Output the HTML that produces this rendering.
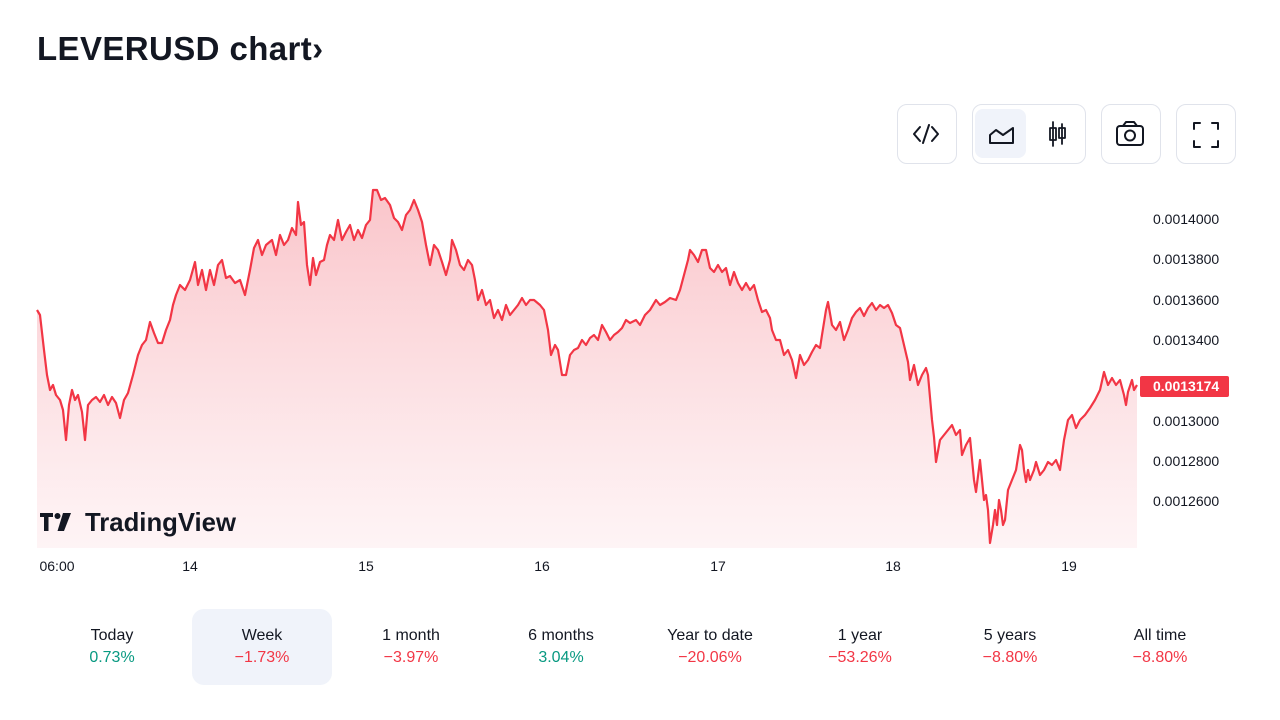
<!DOCTYPE html>
<html><head><meta charset="utf-8"><style>
body{margin:0;width:1280px;height:720px;background:#fff;font-family:"Liberation Sans",sans-serif;color:#131722;position:relative;overflow:hidden}
.abs{position:absolute}
.btn{position:absolute;top:104px;height:60px;border:1px solid #e0e3eb;border-radius:10px;box-sizing:border-box}
.yl{position:absolute;left:1153px;font-size:14px;color:#131722}
.xl{position:absolute;top:558px;font-size:14px;color:#131722;transform:translateX(-50%)}
.tab{position:absolute;top:609px;width:140px;height:76px;text-align:center;font-size:16px;transform:translateX(-50%);border-radius:12px}
.tab .a{margin-top:18px}
.tab .b{margin-top:4px}
.g{color:#089981}.r{color:#f23645}
</style></head><body>
<div class="abs" style="left:37px;top:30px;font-size:33px;font-weight:bold;letter-spacing:0.4px">LEVERUSD chart›</div>

<div class="btn" style="left:897px;width:60px"></div>
<div class="btn" style="left:972px;width:114px"></div>
<div class="abs" style="left:975px;top:109px;width:51px;height:49px;background:#f0f3fa;border-radius:8px"></div>
<div class="btn" style="left:1101px;width:60px"></div>
<div class="btn" style="left:1176px;width:60px"></div>
<svg class="abs" style="left:0;top:0" width="1280" height="200" fill="none" stroke="#131722" stroke-width="2" stroke-linecap="round" stroke-linejoin="round">
<path d="M920 127l-6 7 6 7M932 127l6 7-6 7M929 125l-6 18"/>
<path d="M990 143v-8l6-5 7 5 10-7v15z"/>
<path d="M1053 122v24M1050 128h6v12h-6zM1062 124v20M1059 128h6v10h-6z" stroke-width="1.8"/>
<rect x="1117" y="126" width="26" height="19" rx="3"/><path d="M1123 126l3-4h8l3 4"/><circle cx="1130" cy="135.5" r="5"/>
<path d="M1194 129v-6h6M1212 123h6v6M1218 141v6h-6M1200 147h-6v-6"/>
</svg>

<svg class="abs" style="left:0;top:0" width="1280" height="560">
<defs><linearGradient id="f" x1="0" y1="0" x2="0" y2="1"><stop offset="0" stop-color="#f7a5ad" stop-opacity=".65"/><stop offset="1" stop-color="#fde9ec" stop-opacity=".5"/></linearGradient></defs>
<path id="p" fill="url(#f)" d="M37 310 L40 315 44 350 47 375 50 390 53 385 56 395 60 400 63 410 66 440 69 405 72 390 75 400 78 395 82 412 85 440 88 405 92 400 96 397 100 402 104 395 108 405 112 397 116 403 120 418 124 400 128 393 133 375 138 355 142 345 146 340 150 322 154 333 158 343 162 343 166 330 170 320 173 305 176 295 180 285 185 290 190 280 195 262 198 285 202 270 206 290 210 270 214 285 218 265 222 260 226 278 230 276 235 283 240 280 245 295 250 270 254 248 258 240 262 255 266 245 272 240 276 255 280 235 284 245 288 240 292 228 296 235 298 202 301 225 304 222 307 265 310 285 313 258 316 275 320 262 324 260 327 245 330 235 334 240 338 220 342 240 346 232 350 225 354 240 358 230 362 238 366 225 370 220 373 190 377 190 381 200 385 198 390 205 394 218 398 222 402 230 406 215 410 210 414 200 418 210 422 222 426 245 430 265 434 245 438 250 442 262 446 275 450 260 452 240 456 250 460 265 464 270 468 260 472 265 475 280 478 300 482 290 486 305 490 300 494 318 498 310 502 320 506 305 510 315 514 310 518 305 522 298 526 305 530 300 534 300 540 305 544 310 548 330 551 355 555 345 558 350 562 375 566 375 570 355 574 350 578 348 582 340 586 345 590 338 594 335 598 340 602 325 606 332 610 340 614 335 618 332 622 328 626 320 630 323 636 320 640 325 645 315 650 310 656 300 660 305 665 302 670 298 676 300 680 290 684 275 688 260 690 250 694 255 698 262 702 250 706 250 710 268 714 272 718 265 722 272 726 268 730 285 734 272 738 283 742 290 746 283 750 290 754 285 758 300 762 312 766 310 770 318 772 330 776 340 780 340 784 355 788 350 792 360 796 378 800 355 804 365 808 360 812 352 816 345 820 348 822 335 826 310 828 302 832 325 836 330 840 322 844 340 848 330 852 318 856 312 860 308 864 316 868 308 872 303 876 310 880 305 884 308 888 305 892 313 896 325 900 328 904 345 908 362 910 380 914 365 918 385 922 375 926 368 928 375 932 420 934 437 936 462 940 440 944 435 948 430 952 425 956 435 960 430 962 455 966 445 970 438 974 480 976 492 980 460 982 480 984 500 986 495 988 510 990 543 993 525 995 510 997 525 999 500 1001 510 1003 525 1005 520 1008 490 1012 480 1016 470 1020 445 1022 450 1024 470 1026 482 1028 470 1030 480 1034 470 1036 462 1040 475 1044 470 1048 462 1052 465 1056 460 1060 470 1064 440 1068 420 1072 415 1076 428 1080 420 1085 415 1090 408 1095 400 1100 390 1104 372 1108 385 1112 378 1116 385 1120 380 1124 395 1126 405 1128 392 1132 380 1134 390 1137 385 L1137 548 L37 548 Z"/>
<polyline fill="none" stroke="#f23645" stroke-width="2.2" stroke-linejoin="round" points="37,310 40,315 44,350 47,375 50,390 53,385 56,395 60,400 63,410 66,440 69,405 72,390 75,400 78,395 82,412 85,440 88,405 92,400 96,397 100,402 104,395 108,405 112,397 116,403 120,418 124,400 128,393 133,375 138,355 142,345 146,340 150,322 154,333 158,343 162,343 166,330 170,320 173,305 176,295 180,285 185,290 190,280 195,262 198,285 202,270 206,290 210,270 214,285 218,265 222,260 226,278 230,276 235,283 240,280 245,295 250,270 254,248 258,240 262,255 266,245 272,240 276,255 280,235 284,245 288,240 292,228 296,235 298,202 301,225 304,222 307,265 310,285 313,258 316,275 320,262 324,260 327,245 330,235 334,240 338,220 342,240 346,232 350,225 354,240 358,230 362,238 366,225 370,220 373,190 377,190 381,200 385,198 390,205 394,218 398,222 402,230 406,215 410,210 414,200 418,210 422,222 426,245 430,265 434,245 438,250 442,262 446,275 450,260 452,240 456,250 460,265 464,270 468,260 472,265 475,280 478,300 482,290 486,305 490,300 494,318 498,310 502,320 506,305 510,315 514,310 518,305 522,298 526,305 530,300 534,300 540,305 544,310 548,330 551,355 555,345 558,350 562,375 566,375 570,355 574,350 578,348 582,340 586,345 590,338 594,335 598,340 602,325 606,332 610,340 614,335 618,332 622,328 626,320 630,323 636,320 640,325 645,315 650,310 656,300 660,305 665,302 670,298 676,300 680,290 684,275 688,260 690,250 694,255 698,262 702,250 706,250 710,268 714,272 718,265 722,272 726,268 730,285 734,272 738,283 742,290 746,283 750,290 754,285 758,300 762,312 766,310 770,318 772,330 776,340 780,340 784,355 788,350 792,360 796,378 800,355 804,365 808,360 812,352 816,345 820,348 822,335 826,310 828,302 832,325 836,330 840,322 844,340 848,330 852,318 856,312 860,308 864,316 868,308 872,303 876,310 880,305 884,308 888,305 892,313 896,325 900,328 904,345 908,362 910,380 914,365 918,385 922,375 926,368 928,375 932,420 934,437 936,462 940,440 944,435 948,430 952,425 956,435 960,430 962,455 966,445 970,438 974,480 976,492 980,460 982,480 984,500 986,495 988,510 990,543 993,525 995,510 997,525 999,500 1001,510 1003,525 1005,520 1008,490 1012,480 1016,470 1020,445 1022,450 1024,470 1026,482 1028,470 1030,480 1034,470 1036,462 1040,475 1044,470 1048,462 1052,465 1056,460 1060,470 1064,440 1068,420 1072,415 1076,428 1080,420 1085,415 1090,408 1095,400 1100,390 1104,372 1108,385 1112,378 1116,385 1120,380 1124,395 1126,405 1128,392 1132,380 1134,390 1137,385"/>
<g fill="#131722"><path d="M40 513h13v4h-4.5v14h-4.5v-14h-4z"/><circle cx="57.5" cy="516" r="3"/><path d="M63 513h8l-7 18h-6.5z"/></g>
<text x="85" y="531" font-family="Liberation Sans,sans-serif" font-size="26" font-weight="bold" fill="#131722" textLength="151" lengthAdjust="spacingAndGlyphs">TradingView</text>
</svg>

<div class="yl" style="top:211px">0.0014000</div>
<div class="yl" style="top:251px">0.0013800</div>
<div class="yl" style="top:292px">0.0013600</div>
<div class="yl" style="top:332px">0.0013400</div>
<div class="yl" style="top:413px">0.0013000</div>
<div class="yl" style="top:453px">0.0012800</div>
<div class="yl" style="top:493px">0.0012600</div>
<div class="abs" style="left:1140px;top:376px;width:89px;height:21px;background:#f23645;color:#fff;font-size:14px;font-weight:bold;line-height:21px;padding-left:13px;box-sizing:border-box;border-radius:2px">0.0013174</div>

<div class="xl" style="left:57px">06:00</div>
<div class="xl" style="left:190px">14</div>
<div class="xl" style="left:366px">15</div>
<div class="xl" style="left:542px">16</div>
<div class="xl" style="left:718px">17</div>
<div class="xl" style="left:893px">18</div>
<div class="xl" style="left:1069px">19</div>

<div class="tab" style="left:112px"><div class="a">Today</div><div class="b g">0.73%</div></div>
<div class="tab" style="left:262px;background:#f0f3fa"><div class="a">Week</div><div class="b r">−1.73%</div></div>
<div class="tab" style="left:411px"><div class="a">1 month</div><div class="b r">−3.97%</div></div>
<div class="tab" style="left:561px"><div class="a">6 months</div><div class="b g">3.04%</div></div>
<div class="tab" style="left:710px"><div class="a">Year to date</div><div class="b r">−20.06%</div></div>
<div class="tab" style="left:860px"><div class="a">1 year</div><div class="b r">−53.26%</div></div>
<div class="tab" style="left:1010px"><div class="a">5 years</div><div class="b r">−8.80%</div></div>
<div class="tab" style="left:1160px"><div class="a">All time</div><div class="b r">−8.80%</div></div>
</body></html>
